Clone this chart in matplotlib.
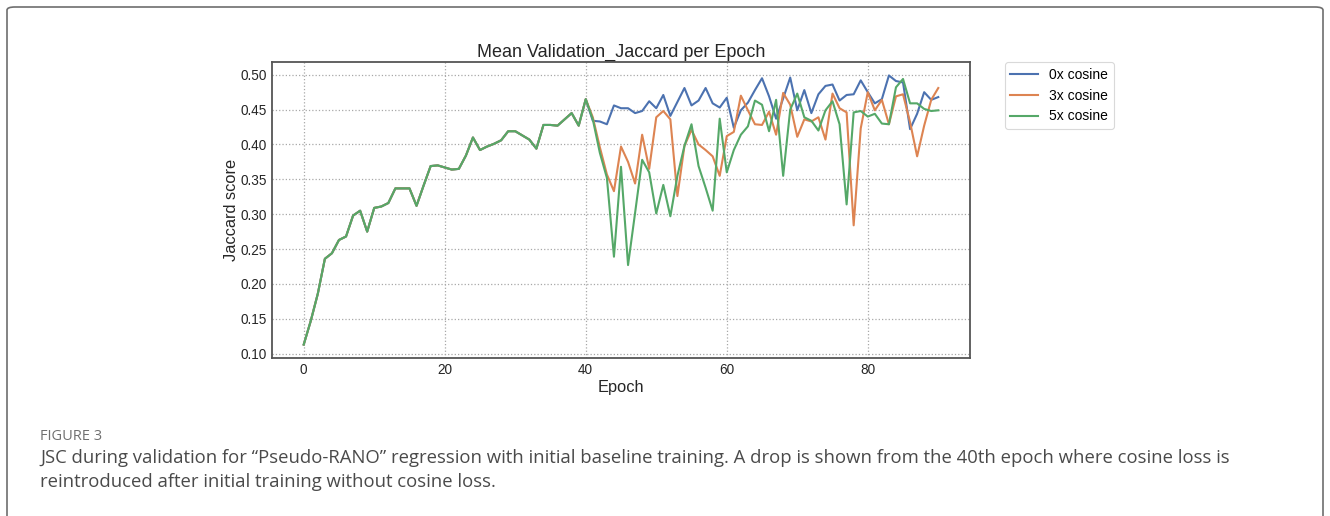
import matplotlib
matplotlib.use("Agg")
import matplotlib.pyplot as plt
from matplotlib.patches import FancyBboxPatch
import numpy as np

epochs = list(range(0, 91))

shared_0_40 = [0.113, 0.147, 0.186, 0.236, 0.244, 0.263, 0.268, 0.298, 0.305, 0.275,
               0.309, 0.311, 0.316, 0.337, 0.337, 0.337, 0.312, 0.341, 0.369, 0.370,
               0.367, 0.364, 0.365, 0.384, 0.410, 0.392, 0.397, 0.401, 0.406, 0.419,
               0.419, 0.413, 0.407, 0.394, 0.428, 0.428, 0.427, 0.436, 0.445, 0.427,
               0.465]

cos0_41_90 = [0.434, 0.433, 0.429, 0.456, 0.452, 0.452, 0.445, 0.448, 0.462, 0.452,
              0.471, 0.441, 0.461, 0.481, 0.456, 0.463, 0.481, 0.459, 0.453, 0.467,
              0.424, 0.449, 0.460, 0.478, 0.495, 0.469, 0.437, 0.466, 0.496, 0.449,
              0.478, 0.445, 0.472, 0.484, 0.486, 0.463, 0.471, 0.472, 0.492, 0.475,
              0.459, 0.465, 0.499, 0.491, 0.489, 0.422, 0.444, 0.475, 0.464, 0.468]

cos3_41_90 = [0.439, 0.396, 0.357, 0.333, 0.397, 0.375, 0.344, 0.414, 0.365, 0.439,
              0.448, 0.436, 0.326, 0.398, 0.421, 0.400, 0.392, 0.383, 0.355, 0.412,
              0.418, 0.470, 0.449, 0.429, 0.428, 0.447, 0.414, 0.474, 0.457, 0.411,
              0.436, 0.433, 0.439, 0.407, 0.473, 0.452, 0.446, 0.284, 0.423, 0.475,
              0.449, 0.464, 0.429, 0.469, 0.472, 0.432, 0.383, 0.427, 0.464, 0.481]

cos5_41_90 = [0.436, 0.388, 0.352, 0.239, 0.368, 0.227, 0.302, 0.378, 0.360, 0.301,
              0.342, 0.297, 0.355, 0.398, 0.429, 0.369, 0.338, 0.305, 0.437, 0.360,
              0.392, 0.414, 0.426, 0.463, 0.457, 0.419, 0.464, 0.355, 0.450, 0.473,
              0.439, 0.434, 0.420, 0.449, 0.462, 0.429, 0.314, 0.446, 0.448, 0.440,
              0.444, 0.430, 0.429, 0.482, 0.494, 0.459, 0.459, 0.451, 0.448, 0.449]

series_labels = ["0x cosine", "3x cosine", "5x cosine"]
series_colors = ["#4C72B0", "#DD8452", "#55A868"]
xticks = [0, 20, 40, 60, 80]
yticks = [0.10, 0.15, 0.20, 0.25, 0.30, 0.35, 0.40, 0.45, 0.50]

series = [shared_0_40 + cos0_41_90, shared_0_40 + cos3_41_90, shared_0_40 + cos5_41_90]

plt.rcParams['font.family'] = ['Liberation Sans', 'DejaVu Sans']

fig = plt.figure(figsize=(13.3, 5.16), dpi=100)
ax = fig.add_axes([272/1330, 1 - 358/516, (970-272)/1330, (358-62)/516])

for vals, lab, col in zip(series, series_labels, series_colors):
    ax.plot(epochs, vals, color=col, lw=1.5, label=lab)

ax.set_xticks(xticks)
ax.set_yticks(yticks)
ax.set_yticklabels([f"{v:.2f}" for v in yticks])
ax.tick_params(axis='both', length=0, labelsize=9.8, colors='#262626', pad=3.5)
ax.grid(True, linestyle=':', color='#a8a8a8', linewidth=0.9)
for s in ax.spines.values():
    s.set_color('#555555')
    s.set_linewidth(1.3)
ax.set_title("Mean Validation_Jaccard per Epoch", fontsize=13, color='#262626', pad=4)
ax.set_xlabel("Epoch", fontsize=11.8, color='#262626', labelpad=2)
ax.set_ylabel("Jaccard score", fontsize=11.8, color='#262626', labelpad=1)

leg = ax.legend(loc='upper left', bbox_to_anchor=(1.05, 1.0), fontsize=10,
                frameon=True, fancybox=True, edgecolor='#d0d0d0', borderpad=0.4,
                borderaxespad=0, labelspacing=0.5)
leg.get_frame().set_linewidth(0.8)

# outer frame
frame = FancyBboxPatch((7/1330, -0.05), (1323-7)/1330, 1 - 7/516 + 0.05,
                       boxstyle="round,pad=0,rounding_size=0.006",
                       transform=fig.transFigure, fill=False,
                       edgecolor='#6e6e6e', linewidth=1.2, clip_on=False)
fig.patches.append(frame)

fig.text(40/1330, 1 - 436/516, "FIGURE 3", fontsize=10.5, color='#707070',
         family=['Open Sans', 'DejaVu Sans'], va='center', ha='left')
fig.text(40/1330, 1 - 458/516,
         "JSC during validation for \u201cPseudo-RANO\u201d regression with initial baseline training. A drop is shown from the 40th epoch where cosine loss is",
         fontsize=13.3, color='#4a4a4a', family=['Open Sans', 'DejaVu Sans'], va='center', ha='left')
fig.text(40/1330, 1 - 482/516, "reintroduced after initial training without cosine loss.",
         fontsize=13.3, color='#4a4a4a', family=['Open Sans', 'DejaVu Sans'], va='center', ha='left')

fig.savefig("out.png", dpi=100)
